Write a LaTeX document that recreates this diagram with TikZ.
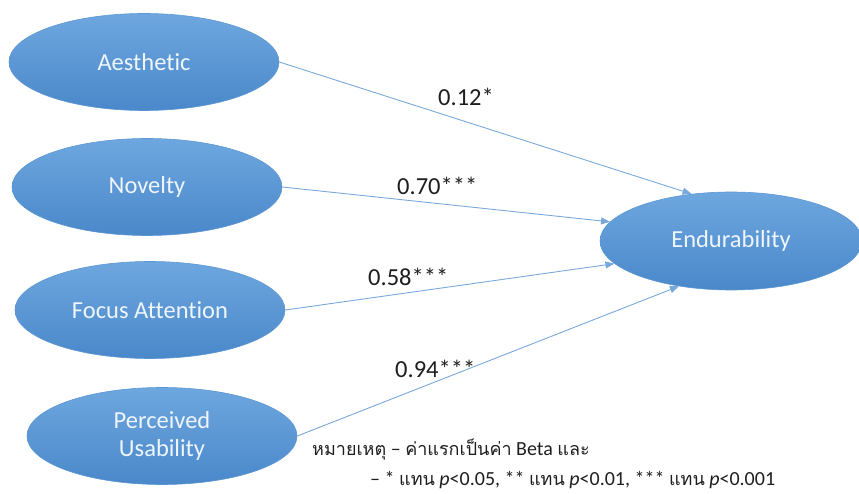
\documentclass[tikz,border=0pt]{standalone}
\usepackage{fontspec}
\setmainfont[Ligatures=NoCommon]{Carlito}
\newfontfamily\thaifont[Script=Thai,Scale=0.9]{Loma}
\usetikzlibrary{shapes.geometric,arrows.meta}
\definecolor{ovaltop}{HTML}{6EA7DF}
\definecolor{ovalbot}{HTML}{4A88CA}
\definecolor{ovaledge}{HTML}{5C97D3}
\definecolor{linkblue}{HTML}{79A9DB}
\definecolor{ovaltext}{HTML}{EEF5FC}
\definecolor{labeltext}{HTML}{1E1E1E}
\newcommand{\thtext}[1]{{\thaifont #1}}
\begin{document}
\begin{tikzpicture}[x=1pt,y=-1pt,
  oval/.style={ellipse, draw=ovaledge, line width=0.6pt,
    top color=ovaltop, bottom color=ovalbot,
    minimum width=270pt, minimum height=97pt, inner sep=0pt,
    text=ovaltext, font=\fontsize{24.5}{28}\selectfont, align=center},
  link/.style={draw=linkblue, line width=0.9pt,
    -{Triangle[length=9pt,width=7pt]}},
  coef/.style={anchor=base west, inner sep=0pt, text=labeltext,
    font=\fontsize{24.5}{28}\selectfont},
  note/.style={anchor=base west, inner sep=0pt, text=labeltext,
    font=\fontsize{20}{24}\selectfont}]
\useasboundingbox (0,0) rectangle (859,494);

% predictor ovals
\node[oval] (aes) at (144,62) {Aesthetic};
\node[oval] (nov) at (147,187) {Novelty};
\node[oval] (foc) at (150,310) {Focus Attention};
\node[oval] (per) at (162,436) {Perceived\\Usability};

% outcome oval
\node[oval, minimum width=262pt, minimum height=98pt] (end) at (731,241) {Endurability};

% paths into the outcome
\draw[link] (aes.east) -- (end.130.5);
\draw[link] (nov.east) -- (end.171.5);
\draw[link] (foc.east) -- (end.191.4);
\draw[link] (per.east) -- (end.221);

% path coefficients
\node[coef] (c1) at (438,106) {0.12*};
\node[coef] (c2) at (397,195) {0.70***};
\node[coef] (c3) at (368,285) {0.58***};
\node[coef] (c4) at (395,377) {0.94***};

% footnote
\node[note] (n1) at (312,455) {\thtext{หมายเหตุ} – \thtext{ค่าแรกเป็นค่า} Beta \thtext{และ}};
\node[note] (n2) at (370,485) {– * \thtext{แทน} \textit{p}<0.05, ** \thtext{แทน} \textit{p}<0.01, *** \thtext{แทน} \textit{p}<0.001};
\end{tikzpicture}
\end{document}
